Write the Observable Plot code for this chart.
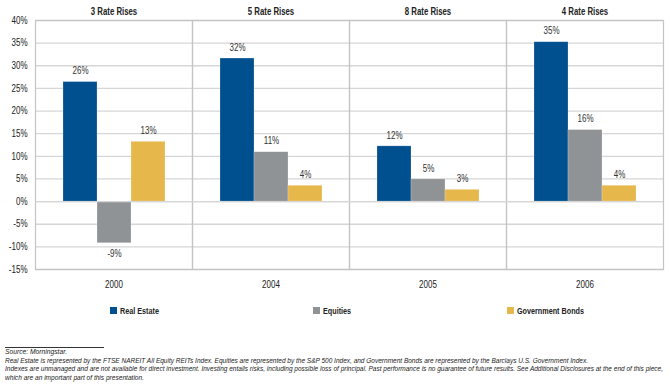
<!DOCTYPE html>
<html>
<head>
<meta charset="utf-8">
<script src="https://cdn.jsdelivr.net/npm/d3@7"></script>
<script src="https://cdn.jsdelivr.net/npm/@observablehq/plot@0.6"></script>
<style>
  body { margin: 0; background: #fff; }
  #wrap { position: relative; width: 670px; height: 388px; font-family: "Liberation Sans", Arial, sans-serif; color: #222; overflow: hidden; }
  #chart { position: absolute; left: 0; top: 0; }
  .leg { position: absolute; top: 305px; font-size: 9.5px; font-weight: bold; white-space: nowrap; line-height: 12px; transform-origin: left center; }
  .leg span.sw { display: inline-block; width: 7px; height: 7px; margin-right: 3px; vertical-align: 0px; }
  #rule { position: absolute; left: 5px; top: 347px; width: 99px; border-top: 1px solid #333; }
  #foot { position: absolute; left: 5px; top: 348px; font-size: 7.6px; font-style: italic; line-height: 8.6px; color: #222; }
  #foot div { white-space: nowrap; }
  #foot span { display: inline-block; transform-origin: left center; }
</style>
</head>
<body>
<div id="wrap">
  <div id="chart"></div>
  <div id="legend"></div>
  <div id="rule"></div>
  <div id="foot"></div>
</div>
<script>
const years = ["2000", "2004", "2005", "2006"];
const titles = ["3 Rate Rises", "5 Rate Rises", "8 Rate Rises", "4 Rate Rises"];
const seriesNames = ["Real Estate", "Equities", "Government Bonds"];
const seriesColors = ["#00508f", "#909396", "#e6b84c"];
const realEstate = [26.4, 31.6, 12.2, 35.2];
const equities = [-9.2, 10.9, 4.9, 15.8];
const govBonds = [13.2, 3.5, 2.6, 3.5];
const yTicks = [-15, -10, -5, 0, 5, 10, 15, 20, 25, 30, 35, 40];
const footLines = [
  "Source: Morningstar.",
  "Real Estate is represented by the FTSE NAREIT All Equity REITs Index. Equities are represented by the S&P 500 Index, and Government Bonds are represented by the Barclays U.S. Government Index.",
  "Indexes are unmanaged and are not available for direct investment. Investing entails risks, including possible loss of principal. Past performance is no guarantee of future results. See Additional Disclosures at the end of this piece,",
  "which are an important part of this presentation."
];
const footWidths = [62, 583, 658, 139];

const seriesValues = [realEstate, equities, govBonds];
const data = [];
years.forEach((yr, i) => {
  seriesNames.forEach((s, j) => data.push({year: yr, series: s, value: seriesValues[j][i]}));
});
const fmt = d => Math.round(d.value) + "%";

const chart = Plot.plot({
  width: 670,
  height: 293,
  marginLeft: 35,
  marginRight: 7,
  marginTop: 20,
  marginBottom: 24,
  style: {fontFamily: '"Liberation Sans", Arial, sans-serif', fontSize: "10px", color: "#222", background: "#fff"},
  fx: {domain: years, padding: 0, label: null},
  x: {domain: seriesNames, paddingInner: 0, paddingOuter: 0.75, axis: null},
  y: {domain: [-15, 40], label: null},
  color: {domain: seriesNames, range: seriesColors},
  marks: [
    Plot.gridY(yTicks, {stroke: "#d6d6d6", strokeOpacity: 1, strokeWidth: 1.3}),
    Plot.frame({stroke: "#c4c4c4", strokeWidth: 1.2}),
    Plot.axisY(yTicks, {tickFormat: d => d + "%", tickSize: 0, tickPadding: 8, fontSize: 10, label: null}),
    Plot.axisFx({anchor: "top", tickFormat: d => titles[years.indexOf(d)], tickSize: 0, tickPadding: 6, fontWeight: "bold", fontSize: 10, label: null}),
    Plot.axisFx({anchor: "bottom", tickSize: 0, tickPadding: 11, fontSize: 10, label: null}),
    Plot.barY(data, {fx: "year", x: "series", y: "value", fill: "series", stroke: "#fff", strokeOpacity: 0.35, strokeWidth: 0.6}),
    Plot.ruleY([0], {stroke: "#d6d6d6", strokeWidth: 1.2}),
    Plot.text(data.filter(d => d.value >= 0), {fx: "year", x: "series", y: "value", text: fmt, dy: -11, fontSize: 10, fill: "#333"}),
    Plot.text(data.filter(d => d.value < 0), {fx: "year", x: "series", y: "value", text: fmt, dy: 11, fontSize: 10, fill: "#333"})
  ]
});
document.getElementById("chart").appendChild(chart);

// condense SVG text to mimic a narrow typeface
chart.querySelectorAll("text").forEach(t => {
  const w = t.getComputedTextLength();
  if (w > 0) {
    const bold = t.closest("[font-weight='bold']") || t.getAttribute("font-weight") === "bold";
    t.setAttribute("textLength", (w * (bold ? 0.78 : 0.8)).toFixed(2));
    t.setAttribute("lengthAdjust", "spacingAndGlyphs");
  }
});

const legendX = [110, 313, 507];
const legend = document.getElementById("legend");
seriesNames.forEach((s, i) => {
  const el = document.createElement("div");
  el.className = "leg";
  el.style.left = legendX[i] + "px";
  el.innerHTML = `<span class="sw" style="background:${seriesColors[i]}"></span>`;
  const tx = document.createElement("span");
  tx.textContent = s;
  tx.style.display = "inline-block";
  tx.style.transformOrigin = "left center";
  tx.style.transform = "scaleX(0.76)";
  el.appendChild(tx);
  legend.appendChild(el);
});
const foot = document.getElementById("foot");
footLines.forEach((t, i) => {
  const d = document.createElement("div");
  const sp = document.createElement("span");
  sp.textContent = t;
  d.appendChild(sp);
  foot.appendChild(d);
  const w = sp.getBoundingClientRect().width;
  sp.style.transform = `scaleX(${footWidths[i] / w})`;
});
</script>
</body>
</html>
